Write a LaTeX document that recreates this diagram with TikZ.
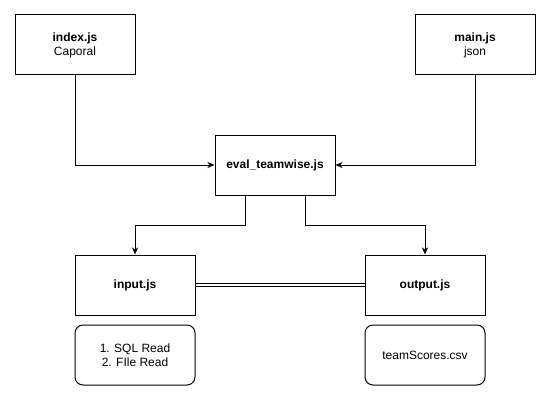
\documentclass[tikz,border=0pt]{standalone}
\usepackage{fontspec}
\setmainfont{Liberation Sans}
\usetikzlibrary{arrows.meta}
\begin{document}
\begin{tikzpicture}[x=1pt,y=-1pt,
  box/.style={draw,line width=1pt,minimum width=120pt,minimum height=60pt,inner sep=0pt,align=center,font=\fontsize{12}{14}\selectfont},
  rbox/.style={box,rounded corners=8pt},
  conn/.style={line width=1pt,-{Stealth[length=7pt,width=6pt,inset=2pt]}},
  link/.style={line width=1pt,double,double distance=2pt}]
\useasboundingbox (0,0) rectangle (551,401);
\fill[white] (0,0) rectangle (551,401);
\node[box] (index) at (75,45) {\textbf{index.js}\\Caporal};
\node[box] (main) at (475,45) {\textbf{main.js}\\json};
\node[box] (eval) at (275,165) {\textbf{eval\_teamwise.js}};
\node[box] (input) at (135,285) {\textbf{input.js}};
\node[box] (output) at (425,285) {\textbf{output.js}};
\node[rbox] (reads) at (135,355) {1. SQL Read\\2. FIle Read};
\node[rbox] (csv) at (425,355) {teamScores.csv};
\draw[conn] (index.south) |- (eval.west);
\draw[conn] (main.south) |- (eval.east);
\draw[conn] ([xshift=-30pt]eval.south) -- ++(0,30) -| (input.north);
\draw[conn] ([xshift=30pt]eval.south) -- ++(0,30) -| (output.north);
\draw[link] (input.east) -- (output.west);
\end{tikzpicture}
\end{document}
